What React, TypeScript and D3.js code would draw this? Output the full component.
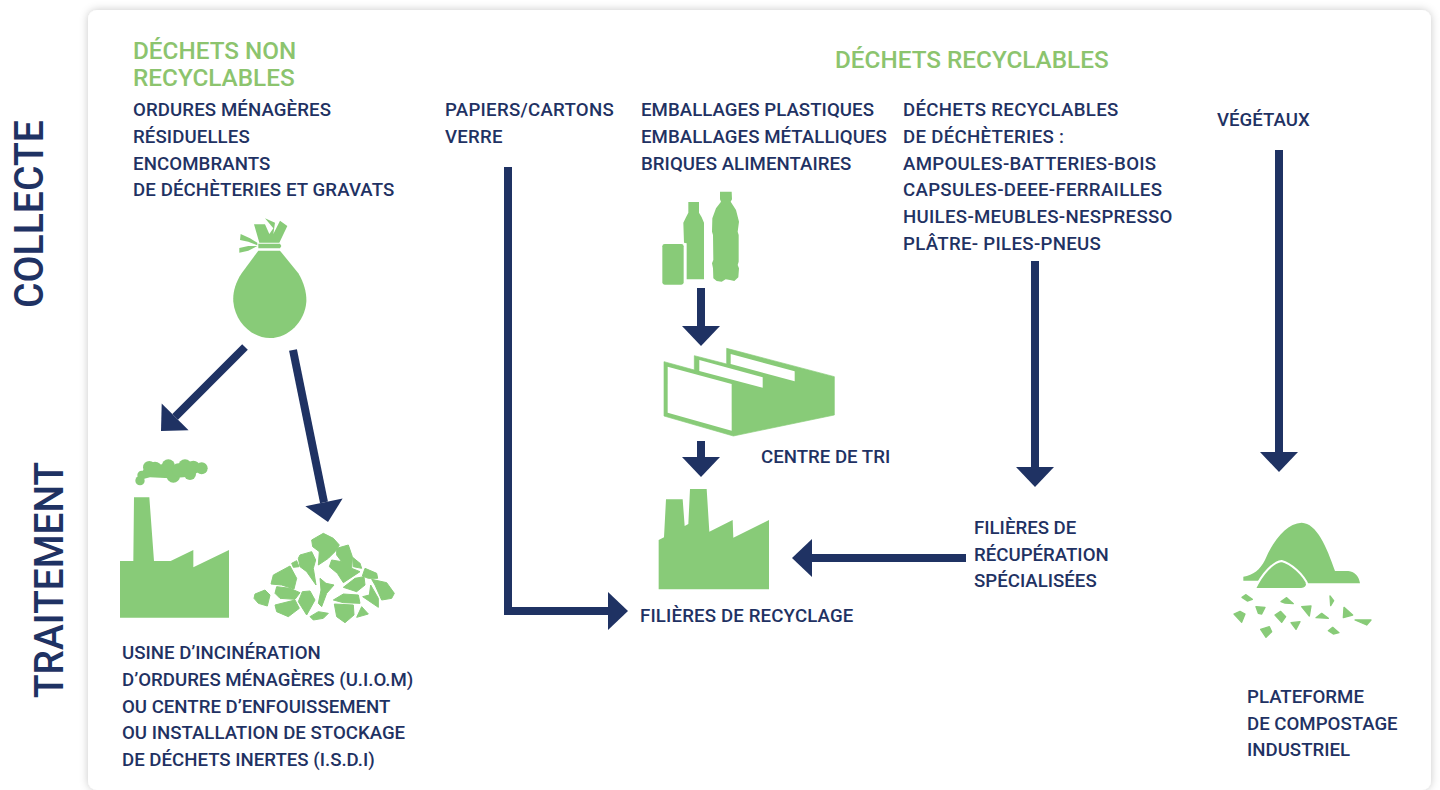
import React from 'react'
import * as d3 from 'd3'

const NAVY = '#1f3263'
const GREEN = '#88cb78'
const TITLE_GREEN = '#8cc46e'
const FONT = 'Roboto, sans-serif'

// text
const nonRecyclableTitle = ['DÉCHETS NON', 'RECYCLABLES']
const nonRecyclableItems = ['ORDURES MÉNAGÈRES', 'RÉSIDUELLES', 'ENCOMBRANTS', 'DE DÉCHÈTERIES ET GRAVATS']
const recyclableTitle = ['DÉCHETS RECYCLABLES']
const paperItems = ['PAPIERS/CARTONS', 'VERRE']
const packagingItems = ['EMBALLAGES PLASTIQUES', 'EMBALLAGES MÉTALLIQUES', 'BRIQUES ALIMENTAIRES']
const dumpItems = [
  'DÉCHETS RECYCLABLES',
  'DE DÉCHÈTERIES :',
  'AMPOULES-BATTERIES-BOIS',
  'CAPSULES-DEEE-FERRAILLES',
  'HUILES-MEUBLES-NESPRESSO',
  'PLÂTRE- PILES-PNEUS'
]
const plantItems = ['VÉGÉTAUX']
const sortingLabel = ['CENTRE DE TRI']
const recyclingLabel = ['FILIÈRES DE RECYCLAGE']
const specialLabel = ['FILIÈRES DE', 'RÉCUPÉRATION', 'SPÉCIALISÉES']
const incinerationLabel = [
  'USINE D’INCINÉRATION',
  'D’ORDURES MÉNAGÈRES (U.I.O.M)',
  'OU CENTRE D’ENFOUISSEMENT',
  'OU INSTALLATION DE STOCKAGE',
  'DE DÉCHETS INERTES (I.S.D.I)'
]
const compostLabel = ['PLATEFORME', 'DE COMPOSTAGE', 'INDUSTRIEL']

type Pt = [number, number]

// arrows, as page coordinates
const arrowPaths: Pt[][] = [
  [[245, 347], [161, 431]],
  [[293, 350], [328, 522]],
  [[508, 167], [508, 611], [628, 611]],
  [[701, 288], [701, 346]],
  [[701, 441], [701, 477]],
  [[1035, 261], [1035, 487]],
  [[1279, 150], [1279, 472]],
  [[966, 558], [792, 558]]
]

// icon outlines, traced on the 3x crops of the picture
const factoryLeft: Pt[] = [[30, 1223], [30, 1053], [70, 1053], [72, 862], [118, 862], [132, 1053], [182, 1053], [250, 1020], [250, 1072], [357, 1020], [357, 1223]]
const smokeCore: Pt[] = [[88, 810], [95, 785], [115, 765], [250, 765], [280, 775], [240, 800], [180, 805], [120, 802]]
const smokePuffs: [number, number, number][] = [
  [90, 812, 14], [95, 795, 13], [118, 772, 19], [135, 775, 20], [155, 782, 19], [175, 768, 20],
  [190, 798, 20], [205, 780, 20], [225, 768, 20], [240, 792, 18], [250, 772, 20], [275, 775, 18]
]
const rubble: Pt[][] = [
  [[605, 990], [640, 970], [670, 985], [688, 1005], [675, 1025], [655, 1045], [625, 1065], [628, 1025], [608, 1010]],
  [[570, 1035], [605, 1025], [617, 1050], [610, 1075], [618, 1125], [590, 1085], [570, 1070], [565, 1045]],
  [[545, 1060], [560, 1052], [567, 1070], [550, 1072]],
  [[680, 1015], [715, 1005], [727, 1040], [725, 1075], [750, 1085], [700, 1118], [682, 1090], [658, 1070], [665, 1050], [695, 1055], [680, 1035]],
  [[728, 1042], [750, 1060], [755, 1075], [730, 1070]],
  [[765, 1075], [800, 1090], [803, 1105], [775, 1105], [757, 1098]],
  [[490, 1095], [540, 1068], [560, 1105], [552, 1137], [515, 1125], [483, 1122]],
  [[630, 1105], [648, 1120], [672, 1125], [650, 1150], [635, 1190], [625, 1180], [633, 1140]],
  [[735, 1105], [762, 1100], [765, 1125], [740, 1145], [700, 1132]],
  [[785, 1108], [830, 1118], [853, 1150], [845, 1165], [815, 1170], [795, 1125]],
  [[782, 1125], [805, 1165], [805, 1192], [758, 1160], [778, 1155]],
  [[500, 1130], [540, 1135], [570, 1148], [555, 1168], [510, 1165], [495, 1150]],
  [[435, 1152], [465, 1140], [480, 1155], [472, 1188], [445, 1180], [432, 1165]],
  [[577, 1145], [600, 1143], [615, 1170], [590, 1215], [565, 1175]],
  [[495, 1185], [555, 1170], [568, 1195], [535, 1220], [500, 1205]],
  [[670, 1170], [700, 1152], [745, 1155], [750, 1180], [700, 1178]],
  [[673, 1182], [730, 1185], [732, 1215], [705, 1238], [680, 1220]],
  [[755, 1190], [775, 1212], [740, 1222]],
  [[600, 1220], [625, 1205], [655, 1210], [640, 1225], [610, 1230]]
]
const bagKnot: Pt[][] = [
  [[432, 43], [465, 43], [478, 72], [490, 55], [465, 25], [495, 38], [490, 72], [510, 32], [532, 48], [508, 98], [448, 98]],
  [[392, 72], [420, 85], [442, 98], [442, 106], [415, 95], [390, 90]],
  [[388, 114], [415, 108], [442, 108], [415, 122], [388, 128]],
  [[445, 101], [510, 101], [514, 108], [510, 115], [445, 115]]
]

const factoryRight: Pt[] = [[56, 1228], [56, 1080], [72, 1072], [78, 958], [128, 958], [134, 1038], [145, 1032], [150, 927], [200, 927], [208, 1055], [278, 1020], [280, 1073], [387, 1020], [387, 1228]]
const bottleSmall: Pt[] = [[145, 66], [177, 66], [177, 98], [185, 112], [192, 128], [192, 298], [140, 298], [140, 190], [132, 188], [130, 128], [138, 112], [145, 98]]
const bottleBig: Pt[] = [[240, 35], [275, 35], [276, 58], [272, 65], [288, 90], [297, 125], [293, 155], [296, 165], [296, 245], [293, 255], [297, 265], [295, 292], [283, 303], [270, 300], [257, 298], [245, 305], [230, 303], [220, 295], [219, 265], [216, 250], [220, 240], [219, 165], [216, 155], [217, 115], [228, 85], [243, 65], [240, 58]]
const sortingBody: Pt[] = [[260, 505], [583, 590], [583, 705], [280, 768], [72, 708], [72, 545], [163, 570], [163, 527], [260, 552]]
const sortingHoles: Pt[][] = [
  [[83, 560], [275, 612], [275, 752], [83, 698]],
  [[178, 540], [368, 592], [368, 623], [178, 573]],
  [[272, 522], [464, 574], [464, 604], [272, 552]]
]
const compostBits: Pt[][] = [
  [[66, 262], [78, 254], [97, 268], [82, 273]],
  [[183, 275], [200, 263], [220, 281], [195, 279]],
  [[330, 258], [341, 272], [332, 287]],
  [[42, 312], [60, 304], [75, 312], [65, 337]],
  [[108, 290], [135, 292], [125, 312], [115, 310]],
  [[245, 290], [273, 288], [268, 318]],
  [[165, 315], [182, 304], [197, 320], [185, 337]],
  [[288, 323], [305, 310], [325, 325]],
  [[372, 292], [398, 315], [370, 323]],
  [[405, 330], [453, 330], [440, 345]],
  [[213, 338], [240, 335], [228, 358]],
  [[122, 358], [148, 350], [155, 365], [138, 382]],
  [[325, 362], [338, 352], [357, 368], [340, 372]]
]

const polygon = d3.line().curve(d3.curveLinearClosed)
const open = d3.line()

const Arrow = ({ points }: { points: Pt[] }) => {
  const [a, b] = points.slice(-2)
  const angle = Math.atan2(b[1] - a[1], b[0] - a[0])
  const headLen = 20
  const headHalf = 19
  const ux = Math.cos(angle)
  const uy = Math.sin(angle)
  const base: Pt = [b[0] - ux * headLen, b[1] - uy * headLen]
  const head: Pt[] = [
    b,
    [base[0] - uy * headHalf, base[1] + ux * headHalf],
    [base[0] + uy * headHalf, base[1] - ux * headHalf]
  ]
  return (
    <g>
      <path d={open([...points.slice(0, -1), base]) as string} fill="none" stroke={NAVY} strokeWidth={8} strokeLinejoin="miter" />
      <path d={polygon(head) as string} fill={NAVY} />
    </g>
  )
}

const Lines = ({ lines, x, y, size = 18.65, color = NAVY, step = 26.75, spacing = 0 }: any) => (
  <text x={x} y={y} fontSize={size} fill={color} fontFamily={FONT} fontWeight={500} letterSpacing={spacing}>
    {lines.map((l: string, i: number) => (
      <tspan key={l} x={x} y={y + i * step}>{l}</tspan>
    ))}
  </text>
)

// crops are 3x, so their coordinates go back to the page through these
const crop = (x: number, y: number) => `translate(${x},${y}) scale(${1 / 3})`

export default function App() {
  return (
    <svg width={1440} height={790} viewBox="0 0 1440 790" style={{ position: 'fixed', left: 0, top: 0, background: '#fff' }}>
      <defs>
        <filter id="cardShadow" x="-5%" y="-5%" width="110%" height="110%">
          <feDropShadow dx={0} dy={0} stdDeviation={4} floodColor="#000" floodOpacity={0.22} />
        </filter>
      </defs>
      <rect x={88} y={10} width={1343} height={780} rx={9} fill="#fff" filter="url(#cardShadow)" />

      <text transform="translate(43,308) rotate(-90)" fontSize={41} fill={NAVY} fontFamily={FONT} fontWeight={500} textLength={188} lengthAdjust="spacingAndGlyphs">COLLECTE</text>
      <text transform="translate(63,698) rotate(-90)" fontSize={41} fill={NAVY} fontFamily={FONT} fontWeight={500} textLength={236} lengthAdjust="spacingAndGlyphs">TRAITEMENT</text>

      <Lines lines={nonRecyclableTitle} x={133} y={59} size={24.3} color={TITLE_GREEN} step={27} />
      <Lines lines={recyclableTitle} x={835} y={68} size={24.3} color={TITLE_GREEN} />
      <Lines lines={nonRecyclableItems} x={133} y={116} spacing={0.1} />
      <Lines lines={paperItems} x={445} y={116} spacing={0.27} />
      <Lines lines={packagingItems} x={641} y={116} spacing={0.05} />
      <Lines lines={dumpItems} x={903} y={116} spacing={0.3} />
      <Lines lines={plantItems} x={1217} y={126} />
      <Lines lines={sortingLabel} x={761} y={463} />
      <Lines lines={recyclingLabel} x={640} y={622} spacing={0.15} />
      <Lines lines={specialLabel} x={974} y={534} step={26.5} />
      <Lines lines={incinerationLabel} x={122} y={659} />
      <Lines lines={compostLabel} x={1247} y={703} step={26.5} />

      {arrowPaths.map((p, i) => <Arrow key={i} points={p} />)}

      <g transform={crop(110, 210)} fill={GREEN}>
        <path d="M445,122 L395,190 C375,220 368,250 370,275 C375,335 425,384 480,384 C535,384 585,335 589,275 C590,250 583,220 565,190 L510,122 Z" />
        {bagKnot.map((p, i) => <path key={i} d={polygon(p) as string} />)}
        <path d={polygon(factoryLeft) as string} />
        <path d={polygon(smokeCore) as string} />
        {smokePuffs.map(([cx, cy, r], i) => <circle key={i} cx={cx} cy={cy} r={r} />)}
        {rubble.map((p, i) => <path key={i} d={polygon(p) as string} stroke={GREEN} strokeWidth={3} strokeLinejoin="round" />)}
      </g>

      <g transform={crop(640, 180)} fill={GREEN}>
        <rect x={67} y={192} width={64} height={122} rx={7} />
        <path d={polygon(bottleSmall) as string} />
        <path d={polygon(bottleBig) as string} />
        <path d={polygon(sortingBody) as string} strokeLinejoin="round" stroke={GREEN} strokeWidth={2} />
        {sortingHoles.map((p, i) => <path key={i} d={polygon(p) as string} fill="#fff" />)}
        <path d={polygon(factoryRight) as string} />
      </g>

      <g transform={crop(1220, 510)} fill={GREEN}>
        <path d="M70,212 L70,200 C100,195 120,180 135,150 C160,90 200,40 245,38 C290,40 320,110 345,183 L385,183 C405,185 418,200 420,220 L262,220 L120,212 Z" />
        <path d="M107,234 C130,190 160,160 185,158 C210,165 245,195 258,222 C258,230 250,234 240,234 Z" />
        <path d="M104,238 C128,188 160,156 185,153 C212,160 250,192 264,226" fill="none" stroke="#fff" strokeWidth={6} />
        {compostBits.map((p, i) => <path key={i} d={polygon(p) as string} stroke={GREEN} strokeWidth={4} strokeLinejoin="round" />)}
      </g>
    </svg>
  )
}
